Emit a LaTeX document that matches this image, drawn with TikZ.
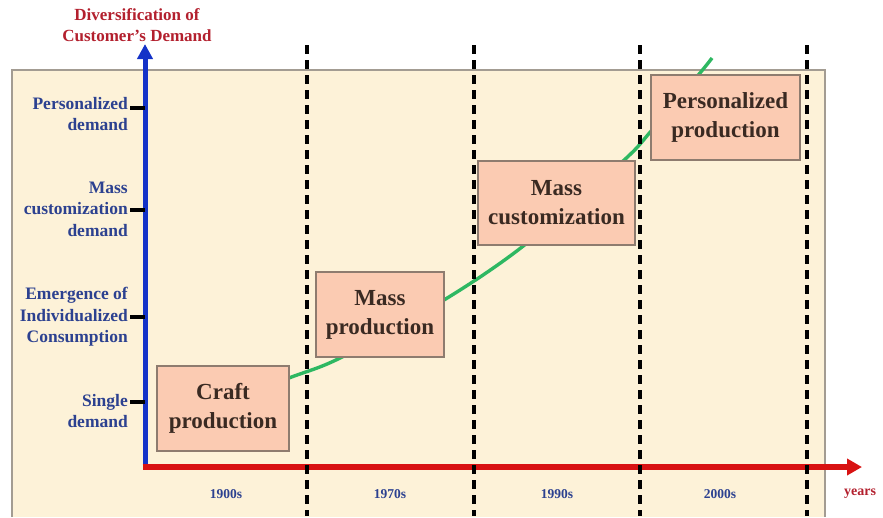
\documentclass[tikz,border=0pt]{standalone}
\usepackage{fontspec}
\setmainfont{Liberation Serif}
\usetikzlibrary{arrows.meta}

\definecolor{cream}{HTML}{FDF2D8}
\definecolor{frame}{HTML}{A39C92}
\definecolor{salmon}{HTML}{FBCBB2}
\definecolor{boxline}{HTML}{8E7C6F}
\definecolor{boxtext}{HTML}{3A2A22}
\definecolor{axisblue}{HTML}{1432C8}
\definecolor{axisred}{HTML}{D81212}
\definecolor{navy}{HTML}{2C4190}
\definecolor{darkred}{HTML}{B3202E}
\definecolor{trend}{HTML}{2EB862}

\tikzset{
	stagebox/.style={draw=boxline, line width=1.8pt, fill=salmon, text=boxtext,
		font=\fontsize{23}{29}\selectfont\bfseries, align=center, inner sep=0pt},
	levellabel/.style={text=navy, font=\fontsize{17.5}{21.5}\selectfont\bfseries,
		align=right, anchor=east, inner sep=0pt},
	yearlabel/.style={text=navy, font=\fontsize{13.5}{15}\selectfont\bfseries, inner sep=0pt},
	divider/.style={line width=3.2pt, dash pattern=on 9pt off 6pt},
}

\begin{document}
\begin{tikzpicture}[x=1pt,y=-1pt]
			\useasboundingbox (0,0) rectangle (883,517);
			%background panel
			\fill[cream] (12,70) rectangle (825,517);
			\draw[frame, line width=1.8pt] (12,517) -- (12,70) -- (825,70) -- (825,517);
			
			%trend curve
			\draw[trend, line width=3.4pt] plot[smooth] coordinates {(223,404) (289,378) (340,358) (444,300) (522,247) (622,162) (652,130) (700,73) (712,58)};
			
			%stages
			\node[stagebox, minimum width=132pt, minimum height=85pt] (craft) at (223,408.5) {Craft\\production};
			\node[stagebox, minimum width=128pt, minimum height=85pt] (massprod) at (380,314.5) {Mass\\production};
			\node[stagebox, minimum width=157pt, minimum height=84pt] (masscust) at (556.5,203) {Mass\\customization};
			\node[stagebox, minimum width=149pt, minimum height=85pt] (perprod) at (725.5,117.5) {Personalized\\production};
			
			%axes
			\coordinate (origin) at (145,467);
			\coordinate (ytip) at (145,44);
			\coordinate (xtip) at (862,467);
			\draw[axisblue, line width=5pt, -{Triangle[length=15pt,width=15pt]}] ([yshift=-2.5pt]origin) -- (ytip);
			\draw[axisred, line width=6pt, -{Triangle[length=15pt,width=16pt]}] ([xshift=-2.5pt]origin) -- (xtip);
			\node[text=darkred, font=\fontsize{17}{21}\selectfont\bfseries, align=center] (ytitle) at (137,25) {Diversification of\\Customer's Demand};
			\node[text=darkred, font=\fontsize{14}{15}\selectfont\bfseries] (xtitle) at (860,494) {years};
			
			%demand levels
			\foreach \name/\y/\t/\txt in {lvlper/114/108/{Personalized\\demand},
					lvlcust/209/210/{Mass\\customization\\demand},
					lvlind/317/317/{Emergence of\\Individualized\\Consumption},
					lvlsingle/411/402/{Single\\demand}}{
				\draw[line width=3.4pt] (130,\t) -- (145,\t);
				\node[levellabel] (\name) at (128,\y) {\txt};
			}
			
			%periods
			\foreach \x in {307, 474, 640, 807}{
				\draw[divider] (\x,45) -- (\x,516);
			}
			\node[yearlabel] (y1900) at (226,494) {1900s};
			\node[yearlabel] (y1970) at (390,494) {1970s};
			\node[yearlabel] (y1990) at (557,494) {1990s};
			\node[yearlabel] (y2000) at (720,494) {2000s};
		\end{tikzpicture}
\end{document}
